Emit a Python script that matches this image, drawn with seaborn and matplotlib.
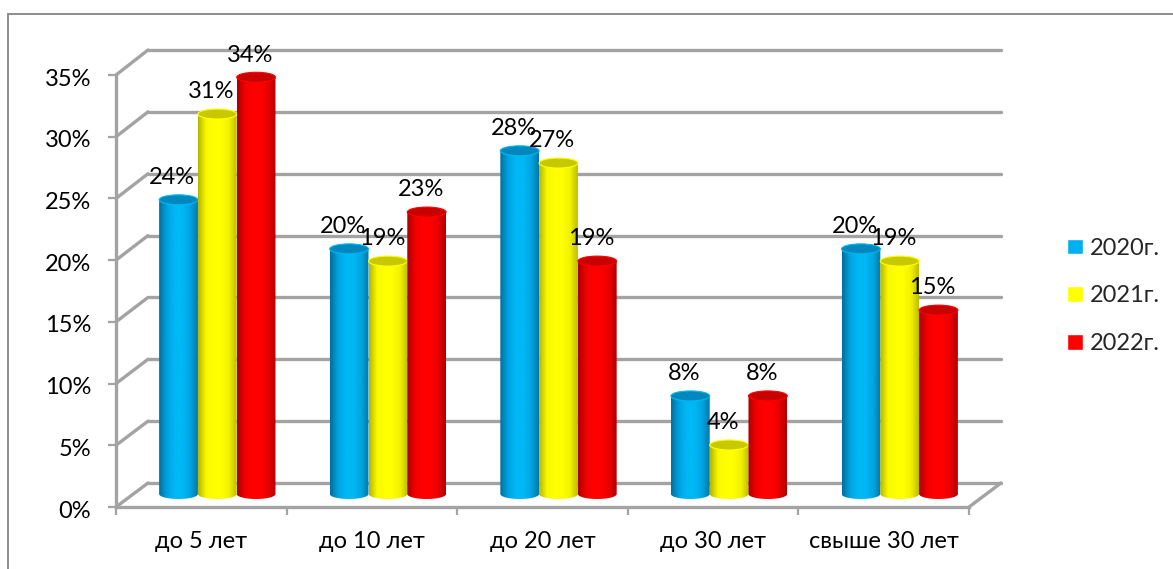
import numpy as np
import pandas as pd
import matplotlib
matplotlib.use("Agg")
import matplotlib.pyplot as plt
import seaborn as sns
from matplotlib.colors import LinearSegmentedColormap
from matplotlib.patches import ConnectionPatch, Ellipse, Rectangle
from matplotlib.path import Path
from matplotlib.transforms import ScaledTranslation

# Values, percent of respondents by length of service
categories = ["до 5 лет", "до 10 лет", "до 20 лет", "до 30 лет", "свыше 30 лет"]
years = ["2020г.", "2021г.", "2022г."]
values_2020 = [24, 20, 28, 8, 20]
values_2021 = [31, 19, 27, 4, 19]
values_2022 = [34, 23, 19, 8, 15]
y_ticks = [0, 5, 10, 15, 20, 25, 30, 35]

WIDTH, HEIGHT = 1173, 569
GRID = "#a3a3a3"
FONT = ["Lato", "Noto Sans", "DejaVu Sans"]
FONT_SIZE = 17

sns.set_theme(style="white")
plt.rcParams["font.family"] = FONT

fig = plt.figure(figsize=(WIDTH / 100, HEIGHT / 100), dpi=100, facecolor="white")


def axes_px(left, right, bottom, top):
    """Axes placed by pixel edges, measured from the top left corner."""
    return fig.add_axes([left / WIDTH, 1 - bottom / HEIGHT,
                         (right - left) / WIDTH, (bottom - top) / HEIGHT])


# Outer chart border
fig.add_artist(Rectangle((8 / WIDTH, -0.1), 1.1, 1.1 - 14 / HEIGHT, transform=fig.transFigure,
                         fill=False, edgecolor="#8c8c8c", linewidth=1.4))

# Three parallel planes give the depth: back wall, front axis, bars in between
BAR_BOTTOM, BAR_TOP = 494, 65
back = axes_px(148, 1001, 483, 50)
front = axes_px(116, 969, 507, 75)
bars = axes_px(132, 985, BAR_BOTTOM, BAR_TOP)
for ax in (back, front, bars):
    ax.set_xlim(-0.5, len(categories) - 0.5)
    ax.set_ylim(0, 35)
    ax.patch.set_alpha(0)
    sns.despine(ax=ax, top=True, right=True, left=True, bottom=True)

# Back wall gridlines
back.set_xticks([])
back.set_yticks(y_ticks)
back.tick_params(left=False, labelleft=False)
back.grid(True, axis="y", color=GRID, linewidth=2.4)
for line in back.get_ygridlines():
    line.set_clip_on(False)

# Front axis with ticks on category boundaries
front.spines["left"].set_visible(True)
front.spines["bottom"].set_visible(True)
for side in ("left", "bottom"):
    front.spines[side].set_color(GRID)
    front.spines[side].set_linewidth(2.4)
front.set_yticks(y_ticks)
front.set_yticklabels([f"{t}%" for t in y_ticks], fontsize=FONT_SIZE, color="black")
front.set_xticks(range(len(categories)))
front.set_xticklabels(categories, fontsize=FONT_SIZE, color="black")
front.set_xticks(np.arange(len(categories) + 1) - 0.5, minor=True)
front.tick_params(axis="x", which="major", length=0, pad=17, bottom=False)
front.tick_params(axis="x", which="minor", length=6, width=1.6, color=GRID, bottom=True)
front.tick_params(axis="y", length=6, width=1.6, color=GRID, left=True, pad=12)
# Sit the percent labels a little below their ticks
nudge = ScaledTranslation(0, -1.5 / 72, fig.dpi_scale_trans)
for label in front.get_yticklabels():
    label.set_transform(label.get_transform() + nudge)

# Side wall and floor edges between the front and back planes
x_left = -0.5
x_right = len(categories) - 0.5
links = [(x_left, t) for t in y_ticks] + [(x_right, 0)]
for x, t in links:
    front.add_artist(ConnectionPatch((x, t), (x, t), coordsA=front.transData,
                                     coordsB=back.transData, color=GRID,
                                     linewidth=2.4, clip_on=False))

# Bars
table = pd.DataFrame({
    "category": categories * 3,
    "year": np.repeat(years, len(categories)),
    "value": values_2020 + values_2021 + values_2022,
})
palette = dict(zip(years, ["#00b0f0", "#ffff00", "#ff0000"]))
sns.barplot(data=table, x="category", y="value", hue="year", hue_order=years, order=categories,
            palette=palette, width=0.682, gap=0, saturation=1, legend=True, ax=bars)
bars.set_xlim(-0.5, len(categories) - 0.5)
bars.set_ylim(0, 35)
bars.set(xlabel="", ylabel="", xticks=[], yticks=[])

# Shading across a cylinder: edge, body, edge; and the colour of its top cap
shades = {
    "2020г.": (["#006f9e", "#00a2e0", "#00b8f5", "#00b8f5", "#00a5e2", "#0078a8"], "#0088be"),
    "2021г.": (["#b5b500", "#f8f800", "#ffff00", "#ffff00", "#f2f200", "#bcbc00"], "#c8c800"),
    "2022г.": (["#a80000", "#f00000", "#ff0000", "#ff0000", "#ea0000", "#b00000"], "#c80000"),
}
CAP_PX = 5.0
cap = CAP_PX * 35 / (BAR_BOTTOM - BAR_TOP)
order = 3
for year, container in zip(years, bars.containers):
    ramp = LinearSegmentedColormap.from_list(year, shades[year][0])
    gradient = np.linspace(0, 1, 128)[None, :]
    for patch in container:
        patch.set_visible(False)
        x0, w, v = patch.get_x(), patch.get_width(), patch.get_height()
        cx = x0 + w / 2
        theta = np.linspace(np.pi, 2 * np.pi, 40)
        # Outline: curved bottom edge plus straight sides up to the top of the bar
        outline = np.column_stack([cx + w / 2 * np.cos(theta), cap * np.sin(theta)])
        outline = np.vstack([outline, [x0 + w, v], [x0, v], outline[0]])
        image = bars.imshow(gradient, cmap=ramp, aspect="auto", extent=(x0, x0 + w, -cap, v),
                            zorder=order, interpolation="bilinear")
        image.set_clip_box(fig.bbox)
        image.set_clip_path(Path(outline), bars.transData)
        bars.add_patch(Ellipse((cx, v), w, 2 * cap, facecolor=shades[year][1],
                               edgecolor=shades[year][0][2], linewidth=0.8,
                               zorder=order + 0.5, clip_on=False))
        # Value label above the bar, shifted slightly to the left
        bars.annotate(f"{v:.0f}%", (cx, v), xytext=(-4.4, 16), textcoords="offset points",
                      ha="center", va="center", fontsize=FONT_SIZE, color="black",
                      zorder=20, annotation_clip=False)
    order += 1
bars.set_xlim(-0.5, len(categories) - 0.5)
bars.set_ylim(0, 35)

# Legend, with swatches in the flat series colours
handles, labels = bars.get_legend_handles_labels()
legend = bars.legend(handles, labels, loc="center left", bbox_to_anchor=(1067 / WIDTH, 1 - 296 / HEIGHT),
                     bbox_transform=fig.transFigure, frameon=False, fontsize=FONT_SIZE, title=None,
                     borderpad=0, borderaxespad=0,
                     handlelength=0.66, handleheight=0.66, handletextpad=0.3, labelspacing=1.13)

fig.savefig("out.png", dpi=100)
